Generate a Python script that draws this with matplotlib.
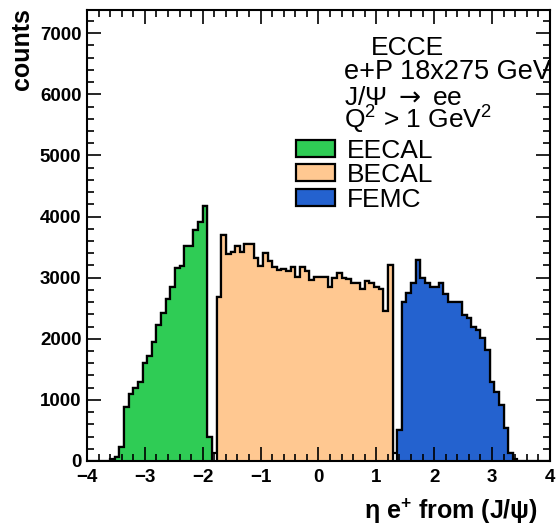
import matplotlib

matplotlib.use("Agg")
import matplotlib.pyplot as plt
import numpy as np
from matplotlib.ticker import MultipleLocator

plt.rcParams["font.family"] = ["Liberation Sans", "DejaVu Sans"]
plt.rcParams["mathtext.fontset"] = "custom"
plt.rcParams["mathtext.rm"] = "Liberation Sans"
plt.rcParams["mathtext.it"] = "Liberation Sans:italic"
plt.rcParams["mathtext.bf"] = "Liberation Sans:bold"
plt.rcParams["mathtext.sf"] = "DejaVu Sans"

# 100 bins in eta between -4 and 4
edges = np.linspace(-4, 4, 101)

# counts per bin, each detector starts at its own first bin index
eecal_first = 6
eecal = [70, 234, 878, 1096, 1189, 1297, 1598, 1723, 1941, 2224, 2415,
         2645, 2841, 3162, 3189, 3516, 3516, 3778, 3904, 4171, 388]
becal_first = 28
becal = [2682, 3702, 3386, 3418, 3511, 3418, 3549, 3549, 3320, 3184, 3402,
         3266, 3168, 3129, 3146, 3113, 3168, 3004, 3168, 3102, 2966, 3004,
         3004, 3004, 2841, 2993, 3075, 2993, 2982, 2911, 2911, 2818, 2949,
         2911, 2841, 2813, 2459, 3200]
femc_first = 67
femc = [507, 2606, 2742, 2906, 3288, 2988, 2906, 2841, 2841, 2906, 2731,
        2606, 2606, 2606, 2388, 2334, 2197, 2143, 2007, 1815, 1297, 1134,
        916, 535, 125]
# electrons that miss all three calorimeters
gap_bins = [5, 27, 66, 92]
gap_counts = [30, 130, 125, 40]

detectors = [
    ("EECAL", eecal_first, eecal, "#2fcc55"),
    ("BECAL", becal_first, becal, "#ffc891"),
    ("FEMC", femc_first, femc, "#2462cf"),
]

total = np.zeros(len(edges) - 1)
for _, first, vals, _ in detectors:
    total[first:first + len(vals)] += vals
total[gap_bins] += gap_counts

fig = plt.figure(figsize=(5.56, 5.26), dpi=100)
ax = fig.add_axes([0.1565, 0.1236, 0.8325, 0.8574])

ax.stairs(total, edges, fill=True, facecolor="white", edgecolor="black", lw=1.6)
for name, first, vals, color in detectors:
    ax.stairs(vals, edges[first:first + len(vals) + 1], fill=True,
              facecolor=color, edgecolor="black", lw=1.6, label=name)

ax.set_xlim(-4, 4)
ax.set_ylim(0, 7380)
ax.xaxis.set_major_locator(MultipleLocator(1))
ax.xaxis.set_minor_locator(MultipleLocator(0.2))
ax.yaxis.set_major_locator(MultipleLocator(1000))
ax.yaxis.set_minor_locator(MultipleLocator(200))
ax.tick_params(which="both", direction="in", top=True, right=True, width=1.2)
ax.tick_params(which="major", length=10, labelsize=13.5)
ax.tick_params(which="minor", length=5)
ax.tick_params(axis="y", pad=4)
ax.tick_params(axis="x", pad=6)
for lab in ax.get_xticklabels() + ax.get_yticklabels():
    lab.set_fontweight("bold")
for sp in ax.spines.values():
    sp.set_linewidth(1.5)

ax.set_ylabel("counts", fontsize=18, fontweight="bold", loc="top")
ax.yaxis.set_label_coords(-0.115, 1.005)
ax.set_xlabel(r"η e$^{\mathbf{+}}$ from (J/ψ)", fontsize=18,
              fontweight="bold", loc="right")
ax.xaxis.set_label_coords(0.974, -0.08)

lines = [
    (0.613, 0.900, "ECCE", 19),
    (0.555, 0.847, "e+P 18x275 GeV", 19.5),
    (0.555, 0.789, r"J/Ψ $\mathsf{\rightarrow}$ ee", 19),
    (0.555, 0.736, r"Q$^{2}$ > 1 GeV$^{2}$", 19),
]
for x, y, s, size in lines:
    ax.text(x, y, s, transform=ax.transAxes, fontsize=size,
            va="baseline", ha="left", clip_on=False)

ax.legend(loc="upper left", bbox_to_anchor=(0.451, 0.715), frameon=False,
          fontsize=19, borderpad=0, borderaxespad=0, handlelength=1.5,
          handleheight=0.6, handletextpad=0.42, labelspacing=0.02)

fig.savefig("out.png", dpi=100)
plt.close(fig)
